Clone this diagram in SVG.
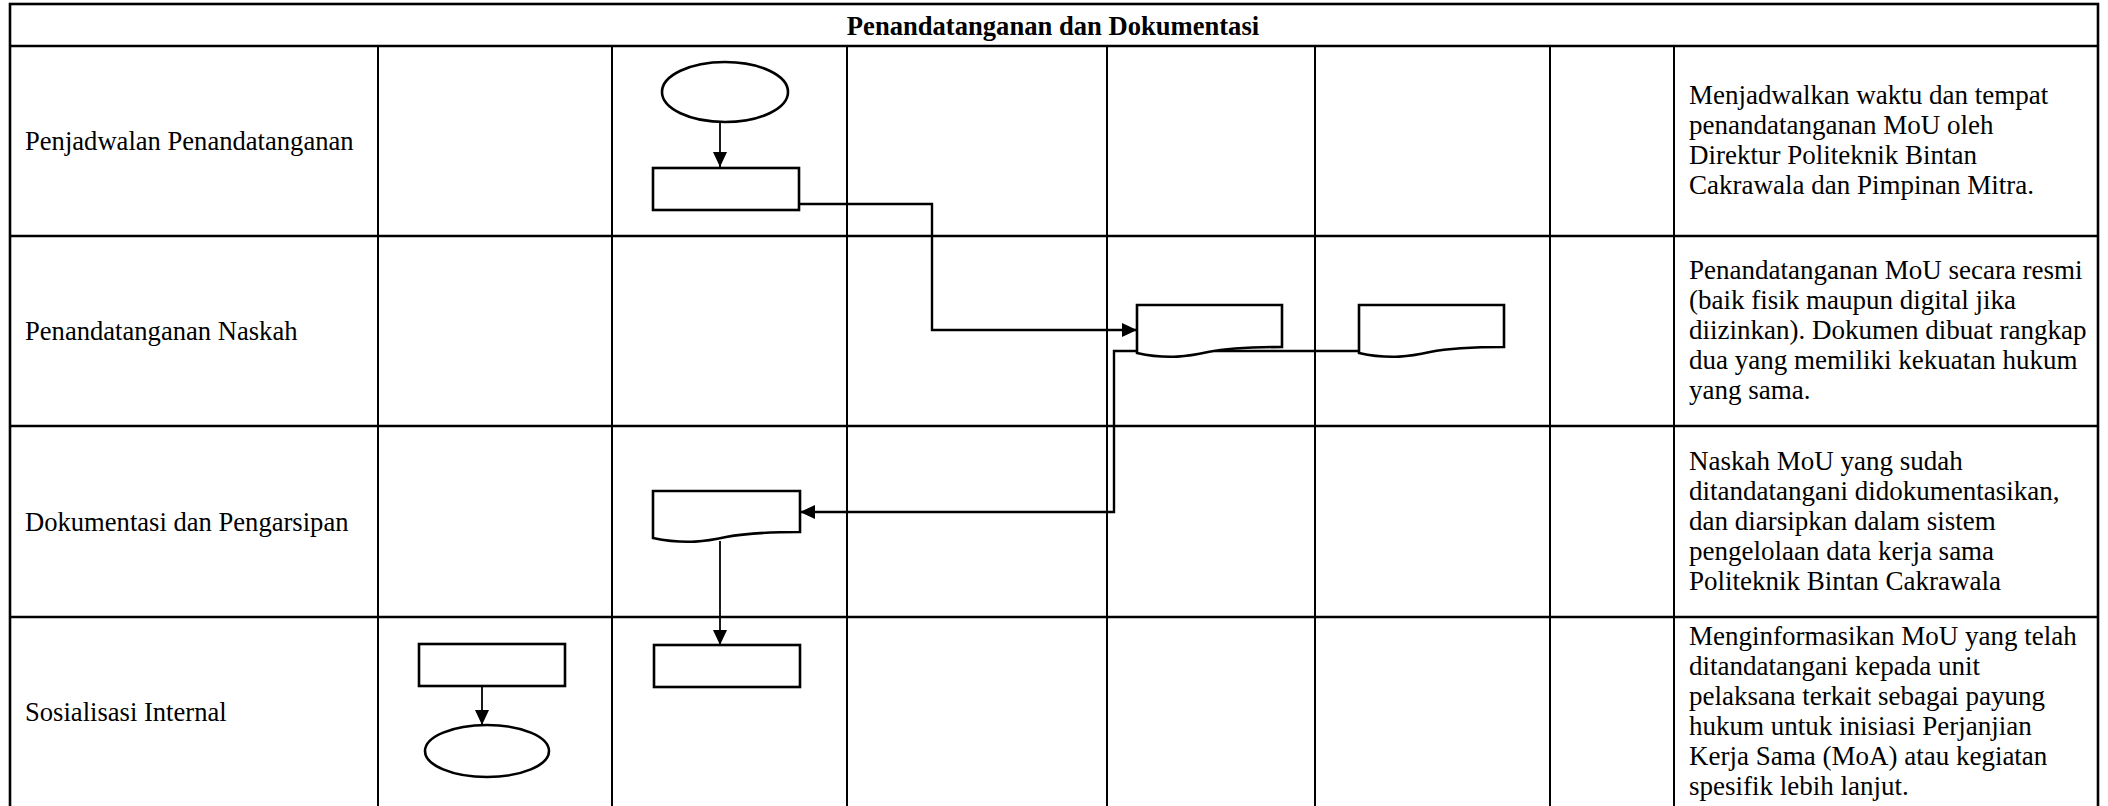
<svg xmlns="http://www.w3.org/2000/svg" width="2108" height="806" viewBox="0 0 2108 806">
<style>
.grid{stroke:#000;fill:none}
.frame{stroke-width:2.6}
.col{stroke-width:2}
.shape{fill:#fff;stroke:#000;stroke-width:2.6}
.conn{fill:none;stroke:#000;stroke-width:2.4}
.thin{stroke-width:1.8}
.hd{font-family:"Liberation Serif","Times New Roman",serif;font-size:26.6px;font-weight:bold;fill:#000}
.lbl{font-family:"Liberation Serif","Times New Roman",serif;font-size:26.6px;fill:#000}
.desc{font-family:"Liberation Serif","Times New Roman",serif;font-size:27px;fill:#000}
</style>
<defs>
<marker id="arr" markerUnits="userSpaceOnUse" markerWidth="16" markerHeight="16" refX="15" refY="7" orient="auto">
<path d="M0,0 L15,7 L0,14 Z" fill="#000"/>
</marker>
</defs>
<rect width="2108" height="806" fill="#fff"/>
<g id="table" class="grid">
<rect class="frame" x="10" y="4" width="2088" height="806"/>
<line class="frame" x1="10" y1="46" x2="2098" y2="46"/>
<line class="frame" x1="10" y1="236" x2="2098" y2="236"/>
<line class="frame" x1="10" y1="426" x2="2098" y2="426"/>
<line class="frame" x1="10" y1="617" x2="2098" y2="617"/>
<line class="col" x1="378" y1="46" x2="378" y2="806"/>
<line class="col" x1="612" y1="46" x2="612" y2="806"/>
<line class="col" x1="847" y1="46" x2="847" y2="806"/>
<line class="col" x1="1107" y1="46" x2="1107" y2="806"/>
<line class="col" x1="1315" y1="46" x2="1315" y2="806"/>
<line class="col" x1="1550" y1="46" x2="1550" y2="806"/>
<line class="col" x1="1674" y1="46" x2="1674" y2="806"/>
</g>
<g id="texts">
<text class="hd" x="1053" y="35" text-anchor="middle">Penandatanganan dan Dokumentasi</text>
<text class="lbl" x="25" y="150">Penjadwalan Penandatanganan</text>
<text class="lbl" x="25" y="340">Penandatanganan Naskah</text>
<text class="lbl" x="25" y="531">Dokumentasi dan Pengarsipan</text>
<text class="lbl" x="25" y="721">Sosialisasi Internal</text>
<text class="desc" x="1689" y="104">Menjadwalkan waktu dan tempat<tspan x="1689" dy="30">penandatanganan MoU oleh</tspan><tspan x="1689" dy="30">Direktur Politeknik Bintan</tspan><tspan x="1689" dy="30">Cakrawala dan Pimpinan Mitra.</tspan></text>
<text class="desc" x="1689" y="279">Penandatanganan MoU secara resmi<tspan x="1689" dy="30">(baik fisik maupun digital jika</tspan><tspan x="1689" dy="30">diizinkan). Dokumen dibuat rangkap</tspan><tspan x="1689" dy="30">dua yang memiliki kekuatan hukum</tspan><tspan x="1689" dy="30">yang sama.</tspan></text>
<text class="desc" x="1689" y="469.5">Naskah MoU yang sudah<tspan x="1689" dy="30">ditandatangani didokumentasikan,</tspan><tspan x="1689" dy="30">dan diarsipkan dalam sistem</tspan><tspan x="1689" dy="30">pengelolaan data kerja sama</tspan><tspan x="1689" dy="30">Politeknik Bintan Cakrawala</tspan></text>
<text class="desc" x="1689" y="644.5">Menginformasikan MoU yang telah<tspan x="1689" dy="30">ditandatangani kepada unit</tspan><tspan x="1689" dy="30">pelaksana terkait sebagai payung</tspan><tspan x="1689" dy="30">hukum untuk inisiasi Perjanjian</tspan><tspan x="1689" dy="30">Kerja Sama (MoA) atau kegiatan</tspan><tspan x="1689" dy="30">spesifik lebih lanjut.</tspan></text>
</g>
<g id="connectors">
<line class="conn thin" x1="720" y1="122" x2="720" y2="167" marker-end="url(#arr)"/>
<polyline class="conn" points="799,204 932,204 932,330 1137,330" marker-end="url(#arr)"/>
<polyline class="conn" points="1359,351 1114,351 1114,512 800,512" marker-end="url(#arr)"/>
<line class="conn thin" x1="720" y1="541" x2="720" y2="645" marker-end="url(#arr)"/>
<line class="conn thin" x1="482" y1="686" x2="482" y2="725" marker-end="url(#arr)"/>
</g>
<g id="start-ellipse"><ellipse class="shape" cx="725" cy="92" rx="63" ry="30"/></g>
<g id="jadwal-rect"><rect class="shape" x="653" y="168" width="146" height="42"/></g>
<g id="doc-ttd-1"><path class="shape" d="M1137,305 H1282 V347 C1250,347 1228,348 1208,352 C1190,356 1168,360 1137,353 Z"/></g>
<g id="doc-ttd-2"><path class="shape" d="M1359,305 H1504 V347 C1472,347 1450,348 1430,352 C1412,356 1390,360 1359,353 Z"/></g>
<g id="doc-arsip"><path class="shape" d="M653,491 H800 V532 C768,532 746,533 726,537 C708,541 686,545 653,538 Z"/></g>
<g id="sosialisasi-rect-a"><rect class="shape" x="419" y="644" width="146" height="42"/></g>
<g id="sosialisasi-rect-b"><rect class="shape" x="654" y="645" width="146" height="42"/></g>
<g id="end-ellipse"><ellipse class="shape" cx="487" cy="751" rx="62" ry="26"/></g>
</svg>
